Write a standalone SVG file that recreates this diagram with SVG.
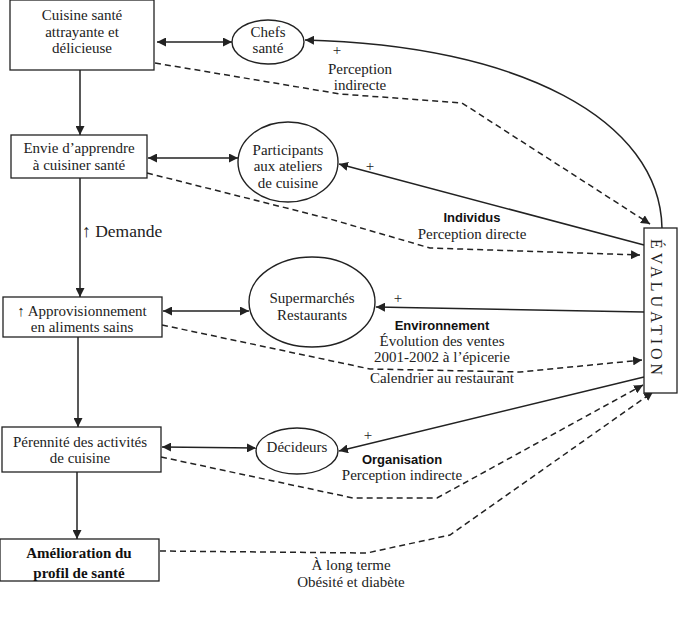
<svg xmlns="http://www.w3.org/2000/svg" width="678" height="622" viewBox="0 0 678 622">
<style>
.box{fill:#fff;stroke:#222;stroke-width:1.3}
.ell{fill:#fff;stroke:#222;stroke-width:1.4}
.t{font-family:"Liberation Serif",serif;font-size:15px;fill:#222;text-anchor:middle}
.tb{font-family:"Liberation Serif",serif;font-size:15px;font-weight:bold;fill:#111;text-anchor:middle}
.s{font-family:"Liberation Sans",sans-serif;font-size:13px;font-weight:bold;fill:#111;text-anchor:middle}
.ln{fill:none;stroke:#222;stroke-width:1.5}
.dl{fill:none;stroke:#222;stroke-width:1.5;stroke-dasharray:6 4}
</style>
<defs>
<marker id="a" viewBox="0 0 10 10" refX="10" refY="5" markerWidth="9" markerHeight="9" markerUnits="userSpaceOnUse" orient="auto-start-reverse">
<path d="M0,0 L10,5 L0,10 z" fill="#222"/>
</marker>
</defs>
<rect width="678" height="622" fill="#fff"/>

<g id="connectors">
<line class="ln" x1="80" y1="70" x2="80" y2="135" marker-end="url(#a)"/>
<line class="ln" x1="80" y1="178" x2="80" y2="297" marker-end="url(#a)"/>
<line class="ln" x1="78" y1="337" x2="78" y2="427" marker-end="url(#a)"/>
<line class="ln" x1="77" y1="472" x2="77" y2="539" marker-end="url(#a)"/>
<line class="ln" x1="157" y1="42" x2="232" y2="42" marker-start="url(#a)" marker-end="url(#a)"/>
<line class="ln" x1="148" y1="158" x2="238" y2="158" marker-start="url(#a)" marker-end="url(#a)"/>
<line class="ln" x1="163" y1="311" x2="249" y2="311" marker-start="url(#a)" marker-end="url(#a)"/>
<line class="ln" x1="162" y1="447" x2="256" y2="448" marker-start="url(#a)" marker-end="url(#a)"/>
<path class="ln" d="M662,228 C660,120 520,45 305,40" marker-end="url(#a)"/>
<line class="ln" x1="644" y1="245" x2="339" y2="164" marker-end="url(#a)"/>
<line class="ln" x1="644" y1="312" x2="376" y2="307" marker-end="url(#a)"/>
<line class="ln" x1="644" y1="377" x2="339" y2="451" marker-end="url(#a)"/>
<polyline class="dl" points="155,63 340,94 462,103 650,224" marker-end="url(#a)"/>
<polyline class="dl" points="147,173 330,219 430,248 640,255" marker-end="url(#a)"/>
<polyline class="dl" points="162,325 370,369 520,372 642,360" marker-end="url(#a)"/>
<polyline class="dl" points="161,457 353,498 437,498 643,385" marker-end="url(#a)"/>
<polyline class="dl" points="160,551 367,553 450,535 653,392" marker-end="url(#a)"/>
</g>

<g id="n1"><rect class="box" x="10" y="0" width="144" height="70"/>
<text class="t" x="82" y="20">Cuisine santé</text>
<text class="t" x="82" y="37">attrayante et</text>
<text class="t" x="82" y="53">délicieuse</text></g>

<g id="n2"><rect class="box" x="11" y="135" width="136" height="43"/>
<text class="t" x="79" y="153">Envie d’apprendre</text>
<text class="t" x="79" y="170">à cuisiner santé</text></g>

<g id="n3"><rect class="box" x="3" y="297" width="159" height="40"/>
<text class="t" x="82" y="316">↑ Approvisionnement</text>
<text class="t" x="82" y="332">en aliments sains</text></g>

<g id="n4"><rect class="box" x="2" y="427" width="159" height="45"/>
<text class="t" x="80" y="447">Pérennité des activités</text>
<text class="t" x="80" y="463">de cuisine</text></g>

<g id="n5"><rect class="box" x="0" y="539" width="159" height="42"/>
<text class="tb" x="79" y="558">Amélioration du</text>
<text class="tb" x="79" y="578">profil de santé</text></g>

<g id="chefs"><ellipse class="ell" cx="268" cy="42" rx="36" ry="22"/>
<text class="t" x="268" y="37">Chefs</text>
<text class="t" x="268" y="53">santé</text></g>

<g id="participants"><ellipse class="ell" cx="288" cy="162" rx="50" ry="40"/>
<text class="t" x="288" y="155">Participants</text>
<text class="t" x="288" y="171">aux ateliers</text>
<text class="t" x="288" y="188">de cuisine</text></g>

<g id="supermarches"><ellipse class="ell" cx="312" cy="302" rx="63" ry="45"/>
<text class="t" x="312" y="303">Supermarchés</text>
<text class="t" x="312" y="320">Restaurants</text></g>

<g id="decideurs"><ellipse class="ell" cx="297" cy="451" rx="41" ry="23"/>
<text class="t" x="297" y="452">Décideurs</text></g>

<g id="evaluation"><rect class="box" x="644" y="228" width="33" height="165"/>
<text font-family="Liberation Serif,serif" font-size="16" fill="#222" letter-spacing="4" transform="translate(651,239) rotate(90)">ÉVALUATION</text></g>

<g id="labels">
<text class="t" x="82" y="237" style="text-anchor:start;font-size:17.5px">↑ Demande</text>
<text class="t" x="337" y="55">+</text>
<text class="t" x="360" y="74">Perception</text>
<text class="t" x="360" y="90">indirecte</text>
<text class="t" x="370" y="171">+</text>
<text class="s" x="472" y="222">Individus</text>
<text class="t" x="472" y="239">Perception directe</text>
<text class="t" x="398" y="303">+</text>
<text class="s" x="442" y="330">Environnement</text>
<text class="t" x="442" y="346">Évolution des ventes</text>
<text class="t" x="442" y="362">2001-2002 à l’épicerie</text>
<text class="t" x="442" y="383">Calendrier au restaurant</text>
<text class="t" x="368" y="440">+</text>
<text class="s" x="402" y="464">Organisation</text>
<text class="t" x="402" y="480">Perception indirecte</text>
<text class="t" x="351" y="570">À long terme</text>
<text class="t" x="351" y="587">Obésité et diabète</text>
</g>
</svg>
